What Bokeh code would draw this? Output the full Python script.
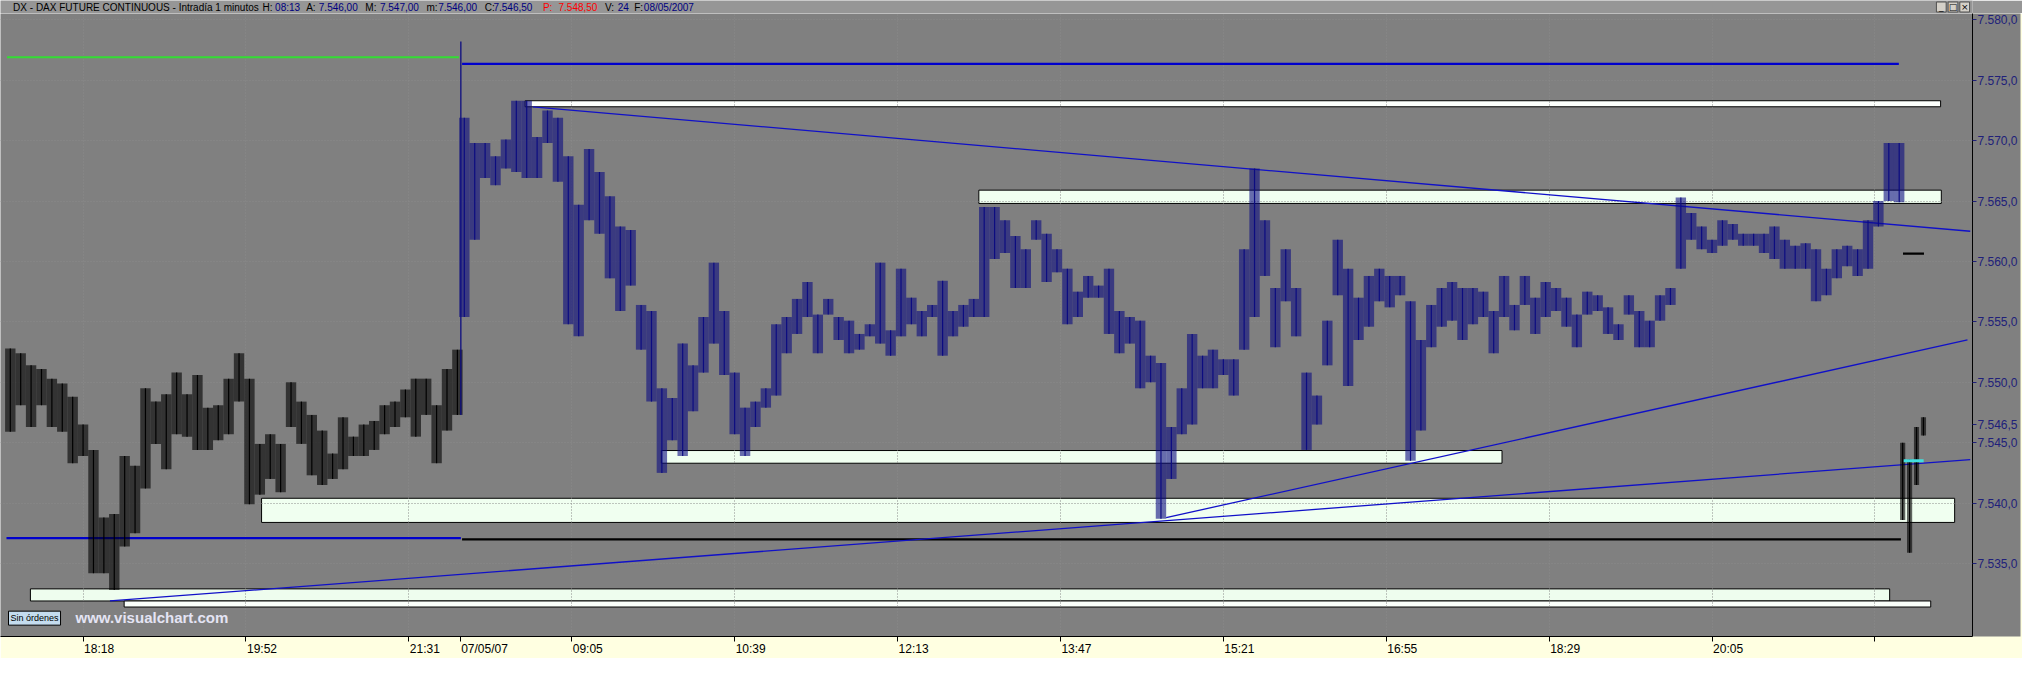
from bokeh.plotting import figure
from bokeh.models import Range1d, FixedTicker, Label, LinearAxis
from bokeh.layouts import column
from bokeh.embed import file_html
from bokeh.resources import INLINE
from bokeh.core.properties import value

# ------------------------------------------------------------------ data
# x = bar index (1-minute bars); price buckets of 6 bars (high / low)
night_bars = list(range(-42, 217, 6))
night_high = [7552.8, 7552.4, 7551.4, 7551.1, 7550.3, 7549.9, 7548.8, 7546.5, 7544.4, 7538.8,
              7539.1, 7543.9, 7543.1, 7549.5, 7548.4, 7549.0, 7550.8, 7549.0, 7550.6, 7547.9,
              7548.1, 7550.3, 7552.4, 7550.3, 7544.9, 7545.7, 7544.9, 7550.0, 7548.4, 7547.3,
              7546.0, 7544.1, 7547.1, 7545.5, 7546.5, 7546.8, 7548.1, 7548.4, 7549.4, 7550.3,
              7550.3, 7548.1, 7551.1, 7552.7]
night_low = [7545.9, 7548.1, 7546.3, 7548.1, 7546.3, 7545.9, 7543.3, 7543.9, 7534.2, 7534.2,
             7532.8, 7536.4, 7537.5, 7541.2, 7544.9, 7542.8, 7545.7, 7545.5, 7544.4, 7544.4,
             7545.2, 7545.7, 7548.4, 7539.9, 7540.7, 7542.0, 7540.9, 7546.3, 7544.9, 7542.3,
             7541.5, 7542.0, 7542.8, 7543.9, 7543.9, 7544.4, 7545.7, 7546.3, 7547.1, 7545.5,
             7547.3, 7543.3, 7546.0, 7547.3]

open_bar = [218]
open_high = [7578.2]
open_low = [7547.3]

day_bars = list(range(220, 1049, 6))
day_high = [7571.9, 7569.8, 7569.8, 7568.7, 7570.1, 7573.3, 7573.3, 7570.3, 7572.5, 7571.9,
            7568.7, 7564.7, 7569.3, 7567.4, 7565.4, 7562.9, 7562.6, 7556.4, 7555.9, 7549.5,
            7548.7, 7553.2, 7551.4, 7555.4, 7559.9, 7555.9, 7550.8, 7547.9, 7548.4, 7549.5,
            7554.8, 7555.4, 7556.9, 7558.3, 7555.6, 7556.9, 7555.4, 7555.1, 7554.0, 7554.8,
            7559.9, 7554.3, 7559.4, 7557.0, 7555.9, 7556.4, 7558.4, 7555.9, 7556.4, 7556.9,
            7564.5, 7564.5, 7563.4, 7562.1, 7561.0, 7563.4, 7562.3, 7561.0, 7559.4, 7557.5,
            7558.8, 7558.0, 7559.4, 7555.9, 7555.4, 7555.1, 7552.2, 7551.6, 7546.3, 7549.5,
            7554.0, 7552.2, 7552.7, 7551.9, 7551.9, 7561.0, 7567.7, 7563.4, 7557.8, 7561.0,
            7557.8, 7550.8, 7548.9, 7555.1, 7561.8, 7559.4, 7557.0, 7558.8, 7559.4, 7558.8,
            7558.8, 7556.7, 7553.5, 7556.4, 7557.8, 7558.3, 7557.8, 7557.8, 7557.5, 7555.9,
            7558.8, 7556.4, 7558.8, 7557.0, 7558.3, 7557.8, 7557.0, 7555.6, 7557.5, 7557.2,
            7556.2, 7554.8, 7557.2, 7555.9, 7555.1, 7557.2, 7557.8, 7565.3, 7564.0, 7562.9,
            7561.8, 7563.4, 7563.1, 7562.3, 7562.3, 7562.3, 7562.9, 7561.8, 7561.3, 7561.5,
            7561.0, 7559.4, 7561.0, 7561.3, 7561.0, 7563.4, 7565.0, 7569.8, 7569.8]
day_low = [7555.4, 7561.8, 7566.9, 7566.3, 7567.7, 7567.4, 7566.9, 7566.9, 7569.8, 7566.6,
           7554.8, 7553.8, 7563.4, 7562.3, 7558.6, 7555.9, 7558.0, 7552.7, 7548.4, 7542.5,
           7545.2, 7543.9, 7547.6, 7550.8, 7553.2, 7550.6, 7545.7, 7543.9, 7546.3, 7547.9,
           7548.9, 7552.4, 7554.0, 7555.4, 7552.4, 7555.6, 7553.5, 7552.4, 7552.7, 7553.8,
           7553.2, 7552.2, 7553.8, 7554.8, 7553.8, 7555.4, 7552.2, 7553.8, 7554.6, 7555.4,
           7555.4, 7560.2, 7560.7, 7557.8, 7557.8, 7561.8, 7558.3, 7559.1, 7554.8, 7555.4,
           7557.0, 7557.0, 7554.0, 7552.4, 7553.2, 7549.5, 7550.0, 7538.7, 7542.0, 7545.7,
           7546.5, 7549.5, 7549.5, 7550.6, 7548.9, 7552.7, 7555.4, 7558.8, 7552.9, 7556.7,
           7553.8, 7544.4, 7546.5, 7551.4, 7557.2, 7549.7, 7553.5, 7554.6, 7556.7, 7556.2,
           7557.2, 7543.5, 7546.0, 7552.9, 7554.6, 7555.1, 7553.5, 7554.8, 7555.4, 7552.4,
           7555.4, 7554.3, 7556.4, 7554.0, 7555.4, 7555.9, 7554.6, 7552.9, 7555.6, 7555.9,
           7554.0, 7553.5, 7555.6, 7552.9, 7552.9, 7555.1, 7556.4, 7559.4, 7561.8, 7561.0,
           7560.7, 7561.3, 7561.8, 7561.3, 7561.3, 7560.7, 7560.2, 7559.4, 7559.4, 7559.4,
           7556.7, 7557.2, 7558.6, 7559.6, 7558.8, 7559.4, 7562.9, 7565.0, 7564.9]

next_bars = [1050, 1054, 1058, 1062]
next_high = [7545.0, 7543.6, 7546.3, 7547.1]
next_low = [7538.6, 7535.9, 7541.5, 7545.6]

# user-drawn zones (price bands)
zone_top = [7573.3, 7565.9, 7544.35, 7540.4, 7532.9, 7531.9]
zone_bottom = [7572.8, 7564.8, 7543.3, 7538.4, 7531.9, 7531.4]
zone_start = [255.1, 516.9, 333.7, 103.0, -30.4, 23.7]
zone_end = [1071.9, 1072.3, 818.8, 1080.0, 1042.5, 1066.2]

# user-drawn horizontal levels
green_level = [7576.9, -43.9, 217.0]
blue_levels_y = [7576.35, 7537.1]
blue_levels_x0 = [218.7, -44.2]
blue_levels_x1 = [1047.8, 218.0]
black_levels_y = [7537.0, 7560.65]
black_levels_x0 = [218.7, 1050.2]
black_levels_x1 = [1049.0, 1062.3]
cyan_level = [7543.5, 1050.6, 1062.1]

# trend lines
trend_x0 = [259.5, 625.0, 15.5]
trend_y0 = [7572.8, 7538.8, 7531.9]
trend_x1 = [1089.0, 1087.4, 1089.0]
trend_y1 = [7562.5, 7553.5, 7543.6]

# axes
x_ticks = [0, 94, 188, 217.6, 282, 376, 470, 564, 658, 752, 846, 940, 1034]
x_labels = ["18:18", "19:52", "21:31", "07/05/07", "09:05", "10:39", "12:13",
            "13:47", "15:21", "16:55", "18:29", "20:05", ""]
grid_x = [0, 94, 188, 282, 376, 470, 564, 658, 752, 846, 940, 1034]
y_ticks = [7535, 7540, 7545, 7550, 7555, 7560, 7565, 7570, 7575, 7580]
last_price = 7546.5

header_parts = [
    ("DX - DAX FUTURE CONTINUOUS - Intradía 1 minutos", "black", 13),
    ("H:", "black", 270), ("08:13", "#000080", 283),
    ("A:", "black", 315), ("7.546,00", "#000080", 328),
    ("M:", "black", 376), ("7.547,00", "#000080", 391),
    ("m:", "black", 439), ("7.546,00", "#000080", 451),
    ("C:", "black", 499), ("7.546,50", "#000080", 508),
    ("P:", "#ff0000", 559), ("7.548,50", "#ff0000", 575),
    ("V:", "black", 623), ("24", "#000080", 636),
    ("F:", "black", 653), ("08/05/2007", "#000080", 663),
]

# ------------------------------------------------------------------ layout
W = 2022
HEADER_H = 13
MAIN_H = 645
RIGHT_W = 50
X0, X1 = -47.65, 1090.3
FONT_NAME = "Liberation Sans"
FONT = value(FONT_NAME)
BG = "#808080"
AXIS_FS = 12


def fmt(v):
    s = f"{v:,.1f}"
    return s.replace(",", "X").replace(".", ",").replace("X", ".")


def text_width(s, size):
    return size * sum(0.278 if c in ":/.," else 0.556 for c in s)


# header bar
hdr = figure(width=W, height=HEADER_H, x_range=Range1d(0, W), y_range=Range1d(0, HEADER_H),
             output_backend="svg", toolbar_location=None,
             x_axis_location=None, y_axis_location=None, min_border=0)
hdr.background_fill_color = "#969696"
hdr.border_fill_color = "#969696"
hdr.outline_line_color = None
hdr.xgrid.visible = False
hdr.ygrid.visible = False
hdr.text(x=[h[2] * 0.995 for h in header_parts], y=[6.5] * len(header_parts),
         text=[h[0] for h in header_parts], text_color=[h[1] for h in header_parts],
         text_font=FONT, text_font_size="10px", text_baseline="middle", text_align="left")
hdr.quad(left=[1985, 1997, 2009], right=[1995, 2007, 2019], bottom=[1.5] * 3, top=[11.5] * 3,
         fill_color="#d4d0c8", line_color="#505050", line_width=1)
hdr.text(x=[1990, 2002, 2014], y=[6.5] * 3, text=["_", "□", "×"], text_color="black",
         text_font=value("DejaVu Sans"), text_font_size="9px",
         text_align="center", text_baseline="middle")

# main chart
p = figure(width=W, height=MAIN_H,
           x_range=Range1d(X0, X1), y_range=Range1d(7528.96, 7580.52),
           output_backend="svg", toolbar_location=None,
           x_axis_location="below", y_axis_location="right",
           min_border_left=0, min_border_top=0, min_border_right=RIGHT_W, min_border_bottom=0)
p.background_fill_color = BG
p.border_fill_color = "#ffffe1"
p.outline_line_color = None

# grid (only visible over the light zones)
p.xgrid.ticker = FixedTicker(ticks=grid_x)
p.ygrid.ticker = FixedTicker(ticks=y_ticks)
for g in (p.xgrid, p.ygrid):
    g.grid_line_color = "#8a8a8a"
    g.grid_line_dash = "1 2"
    g.grid_line_width = 1

# zones
zr = p.quad(left=zone_start, right=zone_end, top=zone_top, bottom=zone_bottom,
            fill_color=["#fcfffc", "#f0fff0", "#f0fff0", "#f0fff0", "#eefdee", "#fafffa"],
            line_color="black", line_width=1)
zr.level = "image"

# horizontal levels
p.segment(x0=[green_level[1]], x1=[green_level[2]], y0=[green_level[0]], y1=[green_level[0]],
          line_color="#33dd33", line_width=2)
p.segment(x0=blue_levels_x0, x1=blue_levels_x1, y0=blue_levels_y, y1=blue_levels_y,
          line_color="#0000cc", line_width=2.2)
p.segment(x0=black_levels_x0, x1=black_levels_x1, y0=black_levels_y, y1=black_levels_y,
          line_color="black", line_width=2.2)

# trend lines
p.segment(x0=trend_x0, y0=trend_y0, x1=trend_x1, y1=trend_y1,
          line_color="#1010c8", line_width=1.3)


def draw_bars(bars, hi, lo, color, width):
    p.vbar(x=bars, top=hi, bottom=lo, width=width, fill_color=color, fill_alpha=0.6, line_color=None)
    p.segment(x0=bars, x1=bars, y0=lo, y1=hi, line_color=color, line_width=1.2)


draw_bars(night_bars, night_high, night_low, "black", 6)
p.segment(x0=open_bar, x1=open_bar, y0=open_low, y1=open_high, line_color="#0c0c80", line_width=1.3)
draw_bars(day_bars, day_high, day_low, "#0c0c80", 6)
draw_bars(next_bars, next_high, next_low, "black", 3)

p.segment(x0=[cyan_level[1]], x1=[cyan_level[2]], y0=[cyan_level[0]], y1=[cyan_level[0]],
          line_color="#40e0e0", line_width=3)

# x axis: tick marks on the main axis, labels (left-aligned at each tick) on a second axis
xa = p.xaxis[0]
xa.ticker = FixedTicker(ticks=x_ticks)
xa.major_label_overrides = {t: "" for t in x_ticks}
xa.major_label_text_font_size = "1px"
xa.major_label_standoff = 0
xa.axis_line_color = "black"
xa.major_tick_line_color = "black"
xa.major_tick_out = 5
xa.major_tick_in = 0
xa.minor_tick_line_color = None

px_per_bar = (W - RIGHT_W) / (X1 - X0)
label_pos = [round(t + (text_width(l, AXIS_FS) / 2 + 1) / px_per_bar, 2) for t, l in zip(x_ticks, x_labels)]
xl = LinearAxis(ticker=FixedTicker(ticks=label_pos),
                major_label_overrides={t: l for t, l in zip(label_pos, x_labels)},
                axis_line_color=None, major_tick_line_color=None, minor_tick_line_color=None,
                major_tick_out=0, major_tick_in=0, major_label_standoff=0,
                major_label_text_font=FONT_NAME, major_label_text_font_size=f"{AXIS_FS}px",
                major_label_text_color="black")
p.add_layout(xl, "below")

# y axis (right) – price ticks plus the last-price marker
ya = p.yaxis[0]
ya.ticker = FixedTicker(ticks=y_ticks + [last_price])
ya.major_label_overrides = {t: fmt(t) for t in y_ticks + [last_price]}
ya.axis_line_color = "black"
ya.major_tick_line_color = "#20207a"
ya.major_tick_out = 4
ya.major_tick_in = 0
ya.minor_tick_line_color = None
ya.major_label_standoff = 1
ya.major_label_text_font = FONT_NAME
ya.major_label_text_font_size = f"{AXIS_FS}px"
ya.major_label_text_color = "#20207a"
try:
    ya.background_fill_color = BG
except Exception:
    pass

# status box and watermark
p.add_layout(Label(x=8, y=7529.9, x_units="screen", y_units="data", text="Sin órdenes",
                   text_font=FONT_NAME, text_font_size="9px", text_color="black",
                   text_baseline="bottom", background_fill_color="#c4dcef",
                   border_line_color="black", padding=2))
p.add_layout(Label(x=75, y=7529.8, x_units="screen", y_units="data", text="www.visualchart.com",
                   text_font=FONT_NAME, text_font_size="15px", text_font_style="bold",
                   text_color="#e4e4f4", text_baseline="bottom"))

layout = column(hdr, p, spacing=0)
open("out.html", "w").write(file_html(layout, INLINE))
